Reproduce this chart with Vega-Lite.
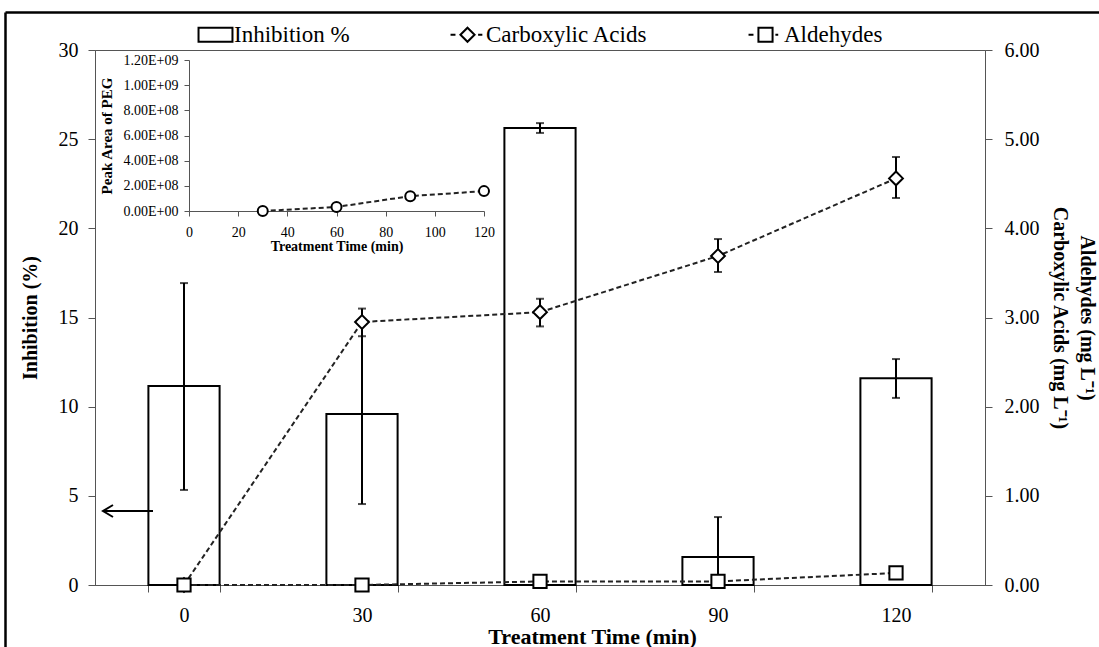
{
  "$schema": "https://vega.github.io/schema/vega-lite/v6.json",
  "width": 890,
  "height": 535,
  "autosize": "none",
  "padding": {"left": 95, "top": 50, "right": 114, "bottom": 62},
  "background": "white",
  "config": {
    "view": {"stroke": "#555", "strokeWidth": 1},
    "font": "Liberation Serif",
    "axis": {"labelFont": "Liberation Serif", "titleFont": "Liberation Serif", "labelColor": "black", "titleColor": "black", "domainColor": "#555", "tickColor": "#555", "grid": false, "titleFontWeight": "bold"},
    "legend": {"labelFont": "Liberation Serif", "titleFont": "Liberation Serif", "labelFontSize": 23, "labelColor": "black", "labelLimit": 400}
  },
  "datasets": {
    "inhibition": [
      {"time": 0, "inhibition": 11.16, "lo": 5.33, "hi": 16.93},
      {"time": 30, "inhibition": 9.59, "lo": 4.54, "hi": 14.64},
      {"time": 60, "inhibition": 25.63, "lo": 25.35, "hi": 25.9},
      {"time": 90, "inhibition": 1.57, "lo": -0.67, "hi": 3.81},
      {"time": 120, "inhibition": 11.6, "lo": 10.49, "hi": 12.67}
    ],
    "products": [
      {"time": 0, "series": "Carboxylic Acids", "value": 0.0, "lo": null, "hi": null},
      {"time": 30, "series": "Carboxylic Acids", "value": 2.95, "lo": 2.79, "hi": 3.1},
      {"time": 60, "series": "Carboxylic Acids", "value": 3.06, "lo": 2.9, "hi": 3.21},
      {"time": 90, "series": "Carboxylic Acids", "value": 3.69, "lo": 3.51, "hi": 3.88},
      {"time": 120, "series": "Carboxylic Acids", "value": 4.56, "lo": 4.34, "hi": 4.8},
      {"time": 0, "series": "Aldehydes", "value": 0.0, "lo": null, "hi": null},
      {"time": 30, "series": "Aldehydes", "value": 0.0, "lo": null, "hi": null},
      {"time": 60, "series": "Aldehydes", "value": 0.04, "lo": null, "hi": null},
      {"time": 90, "series": "Aldehydes", "value": 0.04, "lo": null, "hi": null},
      {"time": 120, "series": "Aldehydes", "value": 0.135, "lo": null, "hi": null}
    ],
    "peg": [
      {"time": 30, "area": 0},
      {"time": 60, "area": 32000000},
      {"time": 90, "area": 118000000},
      {"time": 120, "area": 158000000}
    ],
    "legendItems": [
      {"series": "Inhibition %"},
      {"series": "Carboxylic Acids"},
      {"series": "Aldehydes"}
    ]
  },
  "layer": [
    {
      "encoding": {
        "x": {
          "field": "time", "type": "ordinal",
          "scale": {"paddingInner": 0.6, "paddingOuter": 0.3},
          "axis": {"title": "Treatment Time (min)", "labelAngle": 0, "tickBand": "extent", "tickSize": 7, "labelFontSize": 20, "labelPadding": 13, "titleFontSize": 22, "titleX": 497, "titleY": 58, "titleBaseline": "alphabetic"}
        }
      },
      "layer": [
        {
          "data": {"name": "inhibition"},
          "layer": [
            {
              "mark": {"type": "bar", "fill": "white", "stroke": "black", "strokeWidth": 2},
              "encoding": {
                "y": {"field": "inhibition", "type": "quantitative", "title": "Inhibition (%)", "scale": {"domain": [0, 30]},
                  "axis": {"orient": "left", "values": [0, 5, 10, 15, 20, 25, 30], "tickSize": 7, "labelFontSize": 20, "labelPadding": 10, "titleFontSize": 20, "titleX": -65, "titleBaseline": "middle"}}
              }
            },
            {
              "mark": {"type": "rule", "strokeWidth": 2, "color": "black", "clip": true},
              "encoding": {
                "y": {"field": "lo", "type": "quantitative", "title": "Inhibition (%)", "scale": {"domain": [0, 30]}},
                "y2": {"field": "hi"}
              }
            },
            {
              "mark": {"type": "tick", "thickness": 2, "size": 8, "color": "black", "clip": true},
              "encoding": {"y": {"field": "lo", "type": "quantitative", "title": "Inhibition (%)", "scale": {"domain": [0, 30]}}}
            },
            {
              "mark": {"type": "tick", "thickness": 2, "size": 8, "color": "black", "clip": true},
              "encoding": {"y": {"field": "hi", "type": "quantitative", "title": "Inhibition (%)", "scale": {"domain": [0, 30]}}}
            },
            {
              "data": {"values": [{}]},
              "mark": {"type": "point", "shape": "M-16.2,0H-6.2M-14.2,-1.2L-16.2,0L-14.2,1.2", "size": 100, "stroke": "black", "strokeWidth": 2, "filled": false, "opacity": 1},
              "encoding": {"x": {"datum": 0}, "y": {"datum": 4.15}}
            }
          ]
        },
        {
          "data": {"name": "products"},
          "layer": [
            {
              "mark": {"type": "line", "strokeDash": [5, 3], "strokeWidth": 2, "color": "#222"},
              "encoding": {
                "y": {"field": "value", "type": "quantitative", "title": ["Aldehydes (mg L⁻¹)", "Carboxylic Acids (mg L⁻¹)"], "scale": {"domain": [0, 6]},
                  "axis": {"orient": "right", "format": ".2f", "values": [0, 1, 2, 3, 4, 5, 6], "tickSize": 7, "labelFontSize": 20, "labelPadding": 12, "titleFontSize": 20, "titleAngle": 90, "titleX": 101, "titleBaseline": "middle", "titleLineHeight": 27}},
                "detail": {"field": "series"}
              }
            },
            {
              "transform": [{"filter": "isValid(datum.lo)"}],
              "layer": [
                {
                  "mark": {"type": "rule", "strokeWidth": 2, "color": "black"},
                  "encoding": {"y": {"field": "lo", "type": "quantitative", "scale": {"domain": [0, 6]}}, "y2": {"field": "hi"}}
                },
                {
                  "mark": {"type": "tick", "thickness": 2, "size": 8, "color": "black"},
                  "encoding": {"y": {"field": "lo", "type": "quantitative", "scale": {"domain": [0, 6]}}}
                },
                {
                  "mark": {"type": "tick", "thickness": 2, "size": 8, "color": "black"},
                  "encoding": {"y": {"field": "hi", "type": "quantitative", "scale": {"domain": [0, 6]}}}
                }
              ]
            },
            {
              "transform": [{"filter": "datum.series == 'Carboxylic Acids'"}],
              "mark": {"type": "point", "shape": "diamond", "filled": true, "fill": "white", "stroke": "black", "strokeWidth": 2, "size": 190, "opacity": 1},
              "encoding": {"y": {"field": "value", "type": "quantitative", "scale": {"domain": [0, 6]}}}
            },
            {
              "transform": [{"filter": "datum.series == 'Aldehydes'"}],
              "mark": {"type": "point", "shape": "square", "filled": true, "fill": "white", "stroke": "black", "strokeWidth": 2, "size": 175, "opacity": 1},
              "encoding": {"y": {"field": "value", "type": "quantitative", "scale": {"domain": [0, 6]}}}
            }
          ]
        }
      ],
      "resolve": {"scale": {"y": "independent"}}
    },
    {
      "data": {"name": "peg"},
      "encoding": {
        "x": {"field": "time", "type": "quantitative", "title": "Treatment Time (min)",
          "scale": {"domain": [0, 120], "range": [94, 389], "nice": false, "zero": false},
          "axis": {"orient": "bottom", "offset": -374, "values": [0, 20, 40, 60, 80, 100, 120], "tickSize": 5, "labelPadding": 9, "labelFontSize": 14, "titleFontSize": 14, "titleY": 35, "titleBaseline": "middle", "labelFlush": false}},
        "y": {"field": "area", "type": "quantitative", "title": "Peak Area of PEG",
          "scale": {"domain": [0, 1200000000], "range": [161, 10], "nice": false},
          "axis": {"orient": "left", "offset": -94, "values": [0, 200000000, 400000000, 600000000, 800000000, 1000000000, 1200000000], "labelExpr": "datum.value == 0 ? '0.00E+00' : (datum.value >= 1000000000 ? format(datum.value/1000000000, '.2f') + 'E+09' : format(datum.value/100000000, '.2f') + 'E+08')", "tickSize": 5, "labelPadding": 6, "labelFontSize": 14, "titleFontSize": 15, "titleX": -83, "titleBaseline": "middle", "labelFlush": false}}
      },
      "layer": [
        {
          "data": {"values": [{}]},
          "mark": {"type": "rect", "fill": "white", "fillOpacity": 0, "stroke": "#555", "strokeWidth": 1},
          "encoding": {"x": {"datum": 0}, "x2": {"datum": 120}, "y": {"datum": 0}, "y2": {"datum": 1200000000}}
        },
        {
          "mark": {"type": "line", "strokeDash": [5, 3], "strokeWidth": 2, "color": "#222"}
        },
        {
          "mark": {"type": "point", "shape": "circle", "filled": true, "fill": "white", "stroke": "black", "strokeWidth": 2, "size": 100, "opacity": 1}
        }
      ]
    },
    {
      "data": {"name": "legendItems"},
      "mark": {"type": "point", "filled": false, "color": "black", "strokeWidth": 2, "clip": true},
      "encoding": {
        "x": {"datum": 0, "scale": {"domain": [0, 1], "range": [-90, 1004]},
          "axis": {"orient": "top", "offset": 38, "labels": false, "ticks": false, "title": null, "domainColor": "black", "domainWidth": 2.5}},
        "y": {"datum": 0, "scale": {"domain": [0, 1], "range": [597, -38]},
          "axis": {"orient": "left", "offset": 90, "labels": false, "ticks": false, "title": null, "domainColor": "black", "domainWidth": 2.5}},
        "shape": {
          "field": "series", "type": "nominal",
          "scale": {"domain": ["Inhibition %", "Carboxylic Acids", "Aldehydes"],
            "range": ["M-2.4,-1H2.4V1H-2.4Z", "M-2.4,0H-1.7M-1,0L0,-1L1,0L0,1ZM1.5,0H2.1", "M-2.4,0H-1.7M-1,-1H1V1H-1ZM1.4,0H1.8"]},
          "legend": {"orient": "none", "legendX": 109, "legendY": -27, "direction": "horizontal", "columns": 3, "title": null, "symbolSize": 200, "symbolStrokeWidth": 2, "symbolStrokeColor": "black", "symbolOpacity": 1, "labelFontSize": 23, "labelFont": "Liberation Serif", "labelColor": "black", "labelOffset": 7, "labelLimit": 400, "columnPadding": 96, "padding": 0}
        }
      }
    }
  ],
  "resolve": {"scale": {"x": "independent", "y": "independent", "shape": "independent"}}
}
